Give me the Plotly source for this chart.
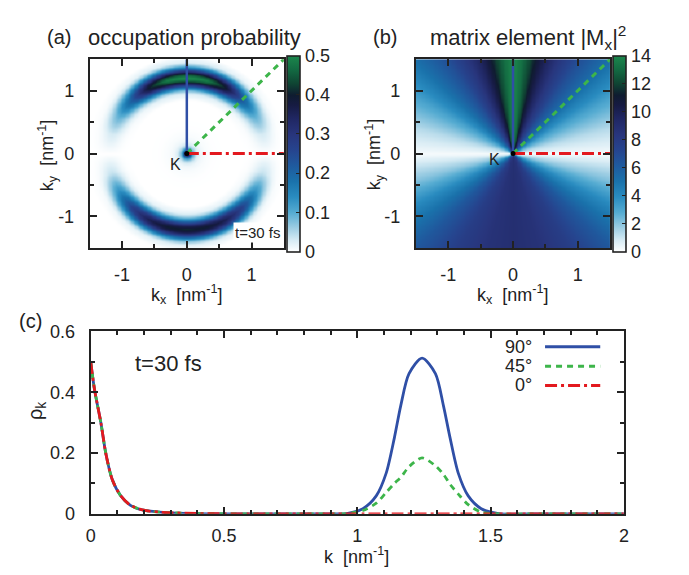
import numpy as np
import plotly.graph_objects as go

# ---------------- data ----------------
# panel (c): radial cuts rho_k along three directions
k_vals = [0, 0.014, 0.038, 0.057, 0.081, 0.112, 0.149, 0.198, 0.27, 0.4, 0.6, 0.8, 0.9,
          0.96, 1.021, 1.071, 1.108, 1.139, 1.163, 1.194, 1.243, 1.293, 1.323, 1.348,
          1.379, 1.416, 1.465, 1.53, 1.7, 2.0]
rho_90 = [0.5, 0.41, 0.30, 0.197, 0.112, 0.06, 0.028, 0.012, 0.005, 0.001, 0, 0, 0,
          0.001, 0.017, 0.059, 0.133, 0.25, 0.356, 0.461, 0.512, 0.461, 0.356, 0.25,
          0.133, 0.059, 0.017, 0.001, 0, 0]
rho_45 = [0.5, 0.41, 0.30, 0.197, 0.112, 0.06, 0.028, 0.012, 0.005, 0.001, 0, 0, 0,
          0.001, 0.011, 0.035, 0.07, 0.1, 0.12, 0.155, 0.184, 0.158, 0.13, 0.097,
          0.065, 0.03, 0.006, 0, 0, 0]
rho_0 = [0.5, 0.41, 0.30, 0.197, 0.112, 0.06, 0.028, 0.012, 0.005, 0.001, 0, 0, 0,
         0, 0, 0, 0, 0, 0, 0, 0, 0, 0, 0, 0, 0, 0, 0, 0, 0]
cut_names = ["90°", "45°", "0°"]
cut_angles = [90, 45, 0]

# panel (a): radial shape of the ring as seen in the map (normalised)
ring_r_a = [0.0, 0.85, 0.95, 1.0, 1.05, 1.1, 1.15, 1.2, 1.25, 1.3, 1.35, 1.4, 1.45, 1.55, 2.2]
ring_shape_a = [0, 0, 0.05, 0.15, 0.35, 0.62, 0.88, 1.0, 0.9, 0.65, 0.38, 0.16, 0.05, 0, 0]
# panel (a): peak occupation of the ring vs. angle (deg from +kx)
angles_a = [-180, -165, -150, -135, -120, -105, -90, -75, -60, -45, -30, -15, 0,
            15, 30, 45, 60, 75, 90, 105, 120, 135, 150, 165, 180]
occ_peak = [0.0, 0.04, 0.14, 0.27, 0.36, 0.40, 0.41, 0.40, 0.36, 0.27, 0.14, 0.04, 0.0,
            0.03, 0.1, 0.22, 0.40, 0.49, 0.512, 0.49, 0.40, 0.22, 0.1, 0.03, 0.0]

# panel (b): |M_x|^2 vs. angle (deg from +kx)
angles_b = [-180, -165, -150, -135, -120, -105, -90, -75, -60, -45, -30, -15, 0,
            15, 30, 45, 55, 65, 70, 75, 80, 85, 90, 95, 100, 105, 110, 115, 125, 135,
            150, 165, 180]
mx2 = [0.2, 2.0, 4.3, 6.3, 7.8, 8.6, 8.9, 8.6, 7.8, 6.3, 4.3, 2.0, 0.2,
       1.3, 3.0, 5.2, 6.6, 8.3, 9.4, 10.5, 12.0, 13.2, 14.0, 13.2, 12.0, 10.5, 9.4, 8.3,
       6.6, 5.2, 3.0, 1.3, 0.2]

cb_ticks_a = [0, 0.1, 0.2, 0.3, 0.4, 0.5]
cb_text_a = ["0", "0.1", "0.2", "0.3", "0.4", "0.5"]
cb_ticks_b = [0, 2, 4, 6, 8, 10, 12, 14]
cb_text_b = ["0", "2", "4", "6", "8", "10", "12", "14"]

# ---------------- build maps from the read profiles ----------------
grid = np.linspace(-1.5, 1.5, 151)
KX, KY = np.meshgrid(grid, grid)
R = np.hypot(KX, KY)
TH = np.degrees(np.arctan2(KY, KX))
center = np.interp(R, np.array(k_vals), np.array(rho_0))
ring = np.interp(R, np.array(ring_r_a), np.array(ring_shape_a))
z_a = center + ring * np.interp(TH, angles_a, occ_peak, period=360)
z_b = np.interp(TH, angles_b, mx2, period=360)

# ---------------- style ----------------
W, H = 689, 575
def px(x): return x / W
def py(y): return 1 - y / H

FONT = "Liberation Sans, Arial, sans-serif"
TXT = "#222222"
cscale = [[0.0, "#ffffff"], [0.06, "#d6ebf4"], [0.12, "#a0cfe4"], [0.2, "#56acd2"],
          [0.28, "#2a8cc0"], [0.36, "#1a72ab"], [0.44, "#1f5a9e"], [0.52, "#26448e"],
          [0.6, "#28357c"], [0.68, "#202763"], [0.75, "#161b42"], [0.8, "#0f1c30"],
          [0.86, "#0f4533"], [0.93, "#136a42"], [1.0, "#1b874c"]]
BLUE, GREEN, RED = "#2f4fa6", "#3db54a", "#e3191f"

fig = go.Figure()

def cbar(xpos, ticks, labels):
    return dict(x=px(xpos), xanchor="left", xref="paper", y=py(148.75), yanchor="middle",
                lenmode="pixels", len=196, thicknessmode="pixels", thickness=13,
                outlinewidth=1.6, outlinecolor=TXT, tickvals=ticks, ticktext=labels,
                ticks="inside", ticklen=4, tickcolor=TXT,
                tickfont=dict(size=18, color=TXT, family=FONT), xpad=0, ypad=0)

fig.add_trace(go.Heatmap(x=grid, y=grid, z=z_a, colorscale=cscale, zmin=0, zmax=0.5,
                         zsmooth="best", colorbar=cbar(286, cb_ticks_a, cb_text_a),
                         xaxis="x", yaxis="y", hoverinfo="skip"))
fig.add_trace(go.Heatmap(x=grid, y=grid, z=z_b, colorscale=cscale, zmin=0, zmax=14,
                         zsmooth="best", colorbar=cbar(617, cb_ticks_b, cb_text_b),
                         xaxis="x2", yaxis="y2", hoverinfo="skip"))

# cut directions drawn on both maps
cut_styles = [dict(color=BLUE, width=2.5, dash="solid"),
              dict(color=GREEN, width=3, dash="6px,5px"),
              dict(color=RED, width=3, dash="12px,4px,3px,4px")]
for ax, ay in [("x", "y"), ("x2", "y2")]:
    for ang, st in zip(cut_angles, cut_styles):
        L = 1.5 / max(abs(np.cos(np.radians(ang))), abs(np.sin(np.radians(ang))))
        fig.add_trace(go.Scatter(x=[0, L * np.cos(np.radians(ang))],
                                 y=[0, L * np.sin(np.radians(ang))],
                                 mode="lines", line=st, xaxis=ax, yaxis=ay,
                                 showlegend=False, hoverinfo="skip"))
    fig.add_trace(go.Scatter(x=[0], y=[0], mode="markers",
                             marker=dict(color="black", size=5), xaxis=ax, yaxis=ay,
                             showlegend=False, hoverinfo="skip"))

# panel (c) curves
for name, rho, st in zip(cut_names, [rho_90, rho_45, rho_0], cut_styles):
    fig.add_trace(go.Scatter(x=k_vals, y=rho, mode="lines", name=name,
                             line=dict(st, width=2.8, shape="spline", smoothing=0.8),
                             xaxis="x3", yaxis="y3", showlegend=False, hoverinfo="skip"))

# ---------------- axes ----------------
def axis(domain, rng, tickvals, mdtick, anchor, standoff):
    return dict(domain=domain, range=rng, tickvals=tickvals,
                ticktext=[("%g" % v) for v in tickvals], anchor=anchor,
                showline=True, mirror="ticks", linecolor=TXT, linewidth=2,
                ticks="inside", ticklen=7, tickwidth=1.5, tickcolor=TXT,
                minor=dict(dtick=mdtick, tick0=0, ticks="inside", ticklen=4,
                           tickwidth=1.5, tickcolor=TXT),
                showgrid=False, zeroline=False, ticklabelstandoff=standoff,
                tickfont=dict(size=18, color=TXT, family=FONT))

ydom_top = [py(246.5), py(51)]
map_ticks = [-1, 0, 1]
fig.update_layout(
    xaxis=axis([px(86), px(283)], [-1.5, 1.5], map_ticks, 0.5, "y", 9),
    yaxis=axis(ydom_top, [-1.5, 1.5], map_ticks, 0.5, "x", 10),
    xaxis2=axis([px(417), px(614)], [-1.5, 1.5], map_ticks, 0.5, "y2", 9),
    yaxis2=axis(ydom_top, [-1.5, 1.5], map_ticks, 0.5, "x2", 10),
    xaxis3=axis([px(87), px(628)], [0, 2], [0, 0.5, 1, 1.5, 2], 0.1, "y3", 5),
    yaxis3=axis([py(522), py(333)], [0, 0.6], [0, 0.2, 0.4, 0.6], 0.1, "x3", 10),
)

# ---------------- text ----------------
ann = []
def text(x, y, s, size=18, xanchor="center", angle=0, bg=None):
    d = dict(x=px(x), y=py(y), xref="paper", yref="paper", text=s, showarrow=False,
             xanchor=xanchor, yanchor="middle", textangle=angle, borderpad=0,
             font=dict(size=size, color=TXT, family=FONT))
    if bg:
        d["bgcolor"] = bg
        d["borderpad"] = 1
    ann.append(d)

text(42, 28, "(a)", 20, "left")
text(83, 28, "occupation probability", 22, "left")
text(372, 28, "(b)", 20, "left")
text(430, 28, "matrix element |M<sub>x</sub>|<sup>2</sup>", 22, "left")
text(13, 322, "(c)", 20, "left")

text(43, 150, "k<sub>y</sub>  [nm<sup>-1</sup>]", 18, angle=-90)
text(185, 295, "k<sub>x</sub>  [nm<sup>-1</sup>]", 18)
text(375, 150, "k<sub>y</sub>  [nm<sup>-1</sup>]", 18, angle=-90)
text(515, 295, "k<sub>x</sub>  [nm<sup>-1</sup>]", 18)
text(32, 415, "ρ<sub>k</sub>", 20, angle=-90)
text(357, 565, "k  [nm<sup>-1</sup>]", 18)

text(173, 160, "K", 16)
text(497, 155, "K", 16)
text(281, 230, "t=30 fs", 15, "right", bg="white")
text(131, 366, "t=30 fs", 22, "left")

# manual gnuplot-style key for panel (c)
shapes = []
for name, st, yy in zip(cut_names, cut_styles, [349, 369, 389]):
    text(536, yy, name, 18, "right")
    shapes.append(dict(type="line", xref="paper", yref="paper", x0=px(548), x1=px(604),
                       y0=py(yy), y1=py(yy), line=dict(st, width=3)))

fig.update_layout(width=W, height=H, margin=dict(l=0, r=0, t=0, b=0),
                  paper_bgcolor="white", plot_bgcolor="white",
                  annotations=ann, shapes=shapes, showlegend=False,
                  font=dict(family=FONT, color=TXT))
fig.write_html("out.html")
